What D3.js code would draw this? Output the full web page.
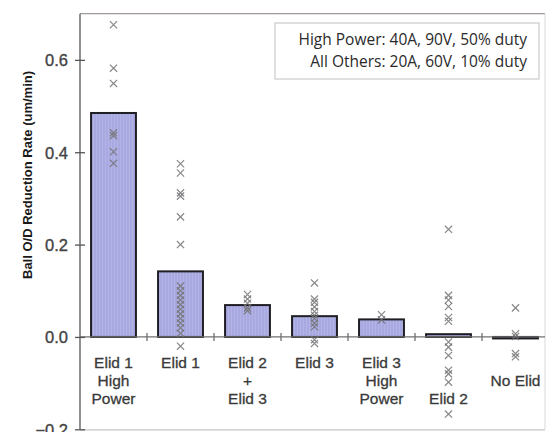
<!DOCTYPE html>
<html><head><meta charset="utf-8">
<script src="https://cdn.jsdelivr.net/npm/d3@7"></script>
<style>body{margin:0;background:#fff}svg{display:block}</style>
</head><body>
<svg id="c" width="546" height="432"></svg>
<script>
const categories = ["Elid 1 High Power","Elid 1","Elid 2 + Elid 3","Elid 3","Elid 3 High Power","Elid 2","No Elid"];
const categoryLabels = [
  ["Elid 1","High","Power"],
  ["Elid 1"],
  ["Elid 2","+","Elid 3"],
  ["Elid 3"],
  ["Elid 3","High","Power"],
  ["","","Elid 2"],
  ["","No Elid"]
];
const barValues = [0.485, 0.142, 0.069, 0.045, 0.038, 0.006, -0.002];
const pointsElid1HP = [0.676, 0.582, 0.549, 0.442, 0.436, 0.401, 0.376];
const pointsElid1 = [0.375, 0.355, 0.312, 0.305, 0.26, 0.20, 0.11, 0.10, 0.09, 0.08, 0.07, 0.06, 0.05, 0.04, 0.03, 0.02, 0.008, -0.02];
const pointsElid23 = [0.092, 0.082, 0.073, 0.063, 0.057];
const pointsElid3 = [0.117, 0.082, 0.075, 0.065, 0.055, 0.047, 0.04, 0.03, 0.022, -0.006, -0.014];
const pointsElid3HP = [0.048, 0.037];
const pointsElid2 = [0.233, 0.09, 0.08, 0.066, 0.042, 0.034, -0.011, -0.022, -0.04, -0.072, -0.08, -0.098, -0.167];
const pointsNoElid = [0.063, 0.007, 0.001, -0.036, -0.043];
const pointSeries = [pointsElid1HP, pointsElid1, pointsElid23, pointsElid3, pointsElid3HP, pointsElid2, pointsNoElid];
const yTicks = [-0.2, 0.0, 0.2, 0.4, 0.6];
const yTitle = "Ball O/D Reduction Rate (um/min)";
const legendLines = ["High Power: 40A, 90V, 50% duty", "All Others: 20A, 60V, 10% duty"];

const svg = d3.select("#c");
const pLeft = 80, pRight = 549, pTop = 13.7, pBottom = 429.3;
const y = d3.scaleLinear().domain([-0.2, 0.7]).range([pBottom, pTop]);
const x = d3.scaleBand().domain(categories).range([pLeft, pRight]).paddingInner(0.33).paddingOuter(0.165);
const step = x.step();

// pattern for bars
const defs = svg.append("defs");
const pat = defs.append("pattern").attr("id","stripes").attr("patternUnits","userSpaceOnUse").attr("width",3).attr("height",10);
pat.append("rect").attr("width",3).attr("height",10).attr("fill","#a9a9e1");
pat.append("rect").attr("width",1).attr("height",10).attr("fill","#b3b3e6");

// frame
svg.append("line").attr("x1",pLeft).attr("x2",545).attr("y1",pTop).attr("y2",pTop).attr("stroke","#a09a98").attr("stroke-width",1.2);
svg.append("line").attr("x1",545).attr("x2",545).attr("y1",pTop).attr("y2",pBottom).attr("stroke","#d8d8d8").attr("stroke-width",1);
svg.append("line").attr("x1",pLeft).attr("x2",545).attr("y1",pBottom+0.5).attr("y2",pBottom+0.5).attr("stroke","#c8c4c2").attr("stroke-width",1.2);

// bars
svg.selectAll("rect.bar").data(categories).join("rect").attr("class","bar")
  .attr("x", d => x(d))
  .attr("width", x.bandwidth())
  .attr("y", (d,i) => Math.min(y(barValues[i]), y(0)))
  .attr("height", (d,i) => Math.max(Math.abs(y(barValues[i]) - y(0)), 1.5))
  .attr("fill","url(#stripes)").attr("stroke","#1e1e24").attr("stroke-width",2);

// zero line
svg.append("line").attr("x1",pLeft).attr("x2",545).attr("y1",y(0)).attr("y2",y(0)).attr("stroke","#707070").attr("stroke-width",1.3);
// category boundary ticks
for (let i = 1; i < categories.length; i++) {
  const xx = x(categories[i]) - step * x.paddingInner() / 2;
  svg.append("line").attr("x1",xx).attr("x2",xx).attr("y1",y(0)-4).attr("y2",y(0)+4).attr("stroke","#707070").attr("stroke-width",1.3);
}

// y axis
const yAxis = d3.axisLeft(y).tickValues(yTicks).tickFormat(d3.format(".1f")).tickSize(5).tickPadding(7);
const ga = svg.append("g").attr("transform",`translate(${pLeft},0)`).call(yAxis);
ga.select(".domain").attr("stroke","#555").attr("stroke-width",1.3).attr("d",`M0,${pTop}V${pBottom}`);
ga.selectAll(".tick line").attr("stroke","#555").attr("stroke-width",1.3).attr("x1",5).attr("x2",-5);
ga.selectAll(".tick text").attr("font-family","Liberation Sans, Arial, sans-serif").attr("font-size",16.5)
  .attr("fill","#444").attr("stroke","#444").attr("stroke-width",0.35).attr("dy","0.35em").attr("x",-12);

// y title
svg.append("text").attr("transform",`translate(27,175) rotate(-90)`).attr("text-anchor","middle")
  .attr("dy","0.35em").attr("font-family","Liberation Sans, Arial, sans-serif").attr("font-weight","bold").attr("font-size",13).attr("fill","#1a1a1a").text(yTitle);

// points
const sz = 3.6;
pointSeries.forEach((pts, i) => {
  const cx = x(categories[i]) + x.bandwidth()/2;
  svg.append("g").selectAll("path").data(pts).join("path")
    .attr("d", v => `M${cx-sz},${y(v)-sz}L${cx+sz},${y(v)+sz}M${cx-sz},${y(v)+sz}L${cx+sz},${y(v)-sz}`)
    .attr("stroke","#737375").attr("stroke-opacity",0.85).attr("stroke-width",1.2).attr("fill","none");
});

// category labels
categoryLabels.forEach((lines, i) => {
  const cx = x(categories[i]) + x.bandwidth()/2;
  lines.forEach((t, j) => {
    if (!t) return;
    svg.append("text").attr("x", cx).attr("y", 367.5 + j*18).attr("text-anchor","middle")
      .attr("font-family","Liberation Sans, Arial, sans-serif").attr("font-size",15.5)
      .attr("fill","#3a3a3a").attr("stroke","#3a3a3a").attr("stroke-width",0.3).text(t);
  });
});

// legend box
svg.append("rect").attr("x",275).attr("y",23).attr("width",264).attr("height",56).attr("fill","#fff").attr("stroke","#c4c0be").attr("stroke-width",1);
legendLines.forEach((t, j) => {
  svg.append("text").attr("x",527).attr("y",40 + j*22).attr("dy","0.35em").attr("text-anchor","end")
    .attr("font-family","Open Sans, sans-serif").attr("font-size",15.5).attr("fill","#2a2a2a").text(t);
});
</script>
</body></html>
